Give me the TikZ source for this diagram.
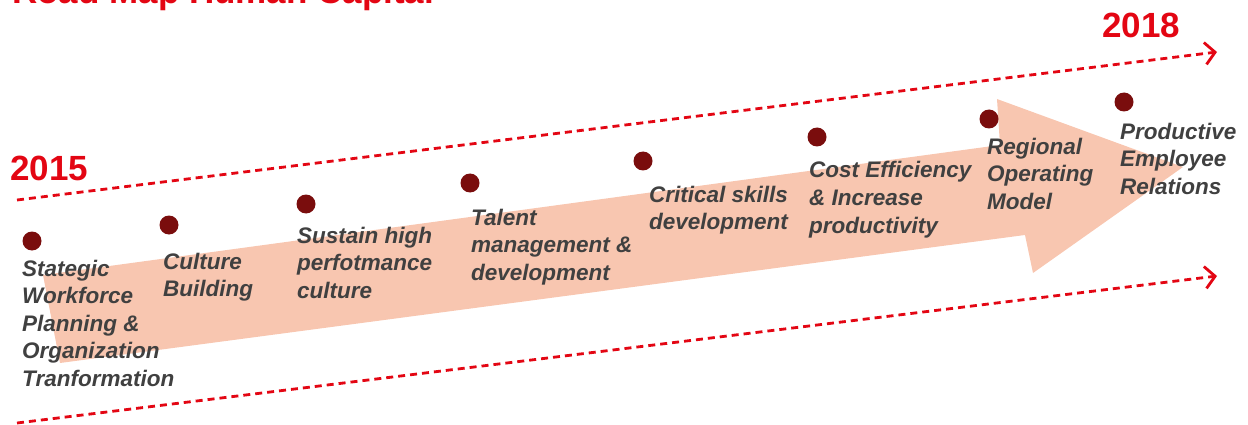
\documentclass[tikz,border=0pt]{standalone}
\usepackage{fontspec}
\setmainfont{Liberation Sans}
\usetikzlibrary{arrows.meta}
\definecolor{rmred}{HTML}{E30613}
\definecolor{rmsalmon}{HTML}{F8C6B0}
\definecolor{rmdot}{HTML}{7A0D0D}
\definecolor{rmtext}{HTML}{404040}
\tikzset{
  dotmark/.style={circle, fill=rmdot, inner sep=0pt, minimum size=19pt},
  milestone/.style={anchor=base west, inner sep=0pt, align=left, text=rmtext,
    font=\fontsize{22.5}{27.5}\selectfont\bfseries\itshape},
  yearlabel/.style={anchor=base west, inner sep=0pt, text=rmred,
    font=\fontsize{35}{40}\selectfont\bfseries},
  timeline/.style={draw=rmred, line width=2.8pt, dash pattern=on 7pt off 5pt,
    -{Straight Barb[length=10pt,width=22pt,line width=2.8pt]}},
}
\begin{document}
\begin{tikzpicture}[x=1pt,y=-1pt]
\useasboundingbox (0,0) rectangle (1248,425);
\clip (0,0) rectangle (1248,425);
% title (cut off by the top edge)
\node[yearlabel] (title) at (12,4) {Road Map Human Capital};
% big arrow
\fill[rmsalmon] (43,275) -- (1000,145) -- (997,99) -- (1183,167)
  -- (1033,273) -- (1025,235) -- (60,363) -- cycle;
% timelines
\coordinate (ts) at (17,200);
\coordinate (te) at (1217,52);
\coordinate (bs) at (17,423);
\coordinate (be) at (1217,276);
\draw[timeline] (ts) -- (te);
\draw[timeline] (bs) -- (be);
% years
\node[yearlabel] (y2015) at (10,180) {2015};
\node[yearlabel] (y2018) at (1102,38) {2018};
% dots
\node[dotmark] (d1) at (32,241) {};
\node[dotmark] (d2) at (169,225) {};
\node[dotmark] (d3) at (306,204) {};
\node[dotmark] (d4) at (470,183) {};
\node[dotmark] (d5) at (643,161) {};
\node[dotmark] (d6) at (817,137) {};
\node[dotmark] (d7) at (989,119) {};
\node[dotmark] (d8) at (1124,102) {};
% labels (base anchor = baseline of the last line)
\node[milestone] (l1) at (22,386) {Stategic\\Workforce\\Planning \&\\Organization\\Tranformation};
\node[milestone] (l2) at (163,296.5) {Culture\\Building};
\node[milestone] (l3) at (297,298) {Sustain high\\perfotmance\\culture};
\node[milestone] (l4) at (471,280) {Talent\\management \&\\development};
\node[milestone] (l5) at (649,229.5) {Critical skills\\development};
\node[milestone] (l6) at (809,233) {Cost Efficiency\\\& Increase\\productivity};
\node[milestone] (l7) at (987,209) {Regional\\Operating\\Model};
\node[milestone] (l8) at (1120,194) {Productive\\Employee\\Relations};
\end{tikzpicture}
\end{document}
